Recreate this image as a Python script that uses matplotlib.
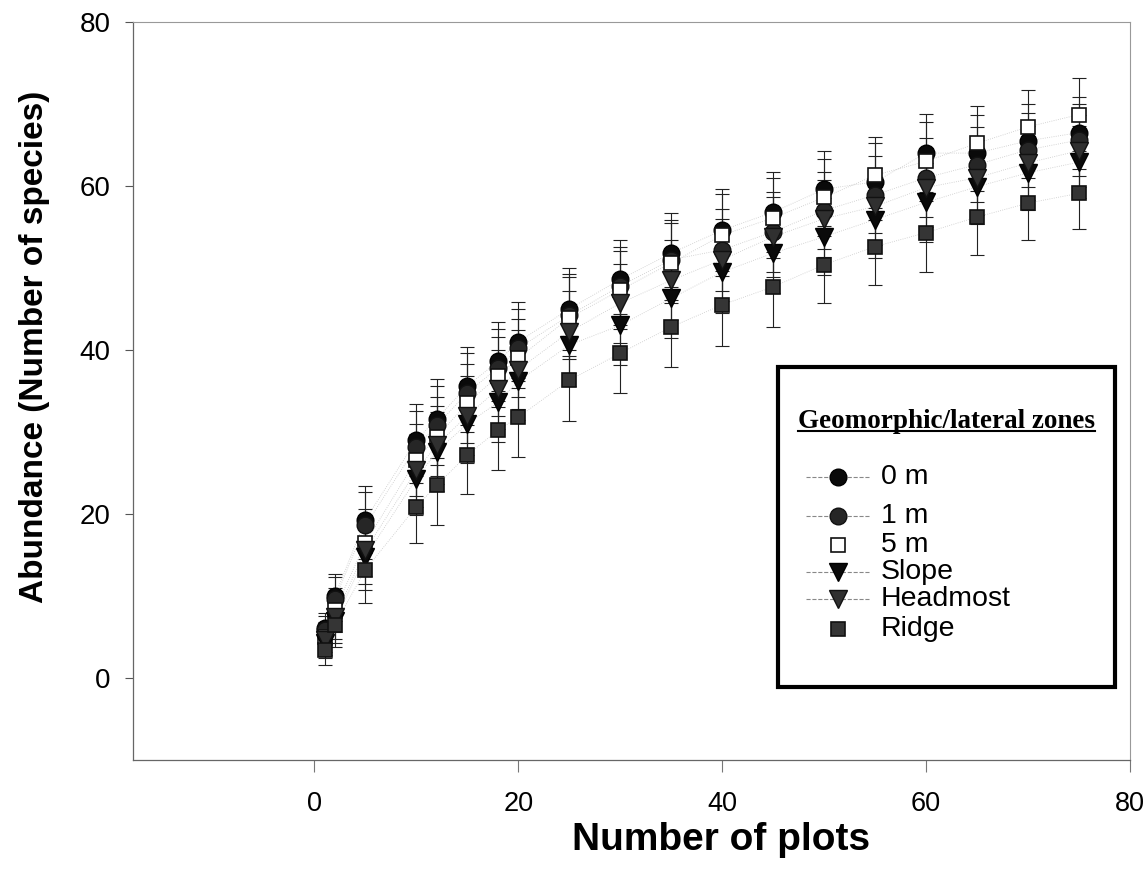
import matplotlib
matplotlib.use("Agg")
import matplotlib.pyplot as plt
from matplotlib.lines import Line2D
from matplotlib.patches import Rectangle

# ---- data ----
plots = [1, 2, 5, 10, 12, 15, 18, 20, 25, 30, 35, 40, 45, 50, 55, 60, 65, 70, 75]
zone_0m = [6.1, 10.0, 19.3, 29.0, 31.6, 35.6, 38.6, 41.0, 45.0, 48.6, 51.8, 54.6, 56.8, 59.6, 60.5, 64.0, 64.0, 65.5, 66.5]
zone_1m = [5.8, 9.6, 18.6, 28.2, 30.8, 34.8, 37.8, 40.2, 44.2, 47.8, 51.0, 52.2, 54.4, 57.0, 58.9, 61.0, 62.6, 64.4, 65.6]
zone_5m = [5.0, 8.3, 16.5, 26.6, 29.4, 33.5, 36.8, 39.0, 43.9, 47.3, 50.6, 54.0, 56.1, 58.6, 61.3, 63.0, 65.2, 67.2, 68.7]
zone_slope = [4.2, 7.0, 14.8, 24.3, 27.6, 31.0, 33.6, 36.2, 40.6, 43.0, 46.3, 49.5, 51.8, 53.8, 55.9, 58.0, 59.9, 61.6, 62.9]
zone_headmost = [4.6, 7.4, 15.6, 25.3, 28.4, 32.0, 35.2, 37.6, 42.2, 45.7, 48.5, 51.0, 53.8, 56.0, 57.5, 59.8, 61.0, 62.8, 64.3]
zone_ridge = [3.4, 6.5, 13.2, 20.9, 23.5, 27.2, 30.2, 31.8, 36.3, 39.6, 42.8, 45.5, 47.7, 50.4, 52.6, 54.3, 56.2, 57.9, 59.1]
err = [1.8, 2.7, 4.1, 4.4, 4.8, 4.8, 4.8, 4.8, 5.0, 4.8, 4.9, 5.0, 4.9, 4.7, 4.7, 4.8, 4.6, 4.5, 4.4]

labels = ["0 m", "1 m", "5 m", "Slope", "Headmost", "Ridge"]
legend_title = "Geomorphic/lateral zones"
xticks = [0, 20, 40, 60, 80]
yticks = [0, 20, 40, 60, 80]

plt.rcParams['font.family'] = ['Liberation Sans', 'DejaVu Sans']

W, H = 1146, 894
fig = plt.figure(figsize=(W / 100, H / 100), dpi=100)
ax = fig.add_axes([133 / W, 0.150, (1130 - 133) / W, 0.8255])

series = [
    (zone_0m, dict(marker='o', ms=12, mfc='#0a0a0a', mec='#000000'), True),
    (zone_1m, dict(marker='o', ms=12, mfc='#262626', mec='#111111'), True),
    (zone_5m, dict(marker='s', ms=10.5, mfc='white', mec='#111111', mew=1.2), False),
    (zone_slope, dict(marker='v', ms=13, mfc='#0a0a0a', mec='#000000'), True),
    (zone_headmost, dict(marker='v', ms=13, mfc='#303030', mec='#111111'), True),
    (zone_ridge, dict(marker='s', ms=10.5, mfc='#353535', mec='#111111', mew=1.2), False),
]

for vals, mk, with_line in series:
    ax.errorbar(plots, vals, yerr=err, fmt='none', ecolor='#222222', elinewidth=0.8,
                capsize=5, capthick=0.8, zorder=2)
    ax.plot(plots, vals, linestyle=':', color='#c8c8c8', lw=0.6, zorder=2.5)
    ax.plot(plots, vals, linestyle='none', zorder=3, **mk)

ax.set_xlim(-17.8, 80)
ax.set_ylim(-10, 80)
ax.set_xticks(xticks)
ax.set_yticks(yticks)
ax.tick_params(axis='x', direction='out', length=8.5, width=0.8, color='#777777',
               labelsize=19.5, pad=14)
ax.tick_params(axis='y', direction='out', length=6, width=0.8, color='#555555',
               labelsize=20, pad=10)
for side in ['left', 'bottom']:
    ax.spines[side].set_color('#666666')
    ax.spines[side].set_linewidth(0.9)
for side in ['top', 'right']:
    ax.spines[side].set_color('#999999')
    ax.spines[side].set_linewidth(0.8)

fig.text(0.0305, 0.612, "Abundance (Number of species)", rotation=90,
         ha='center', va='center', fontsize=24, fontweight='bold')
fig.text(0.629, 0.0604, "Number of plots", ha='center', va='center',
         fontsize=28, fontweight='bold')

# ---- legend (box, underlined title, entries) ----
def fx(px):
    return px / W

def fy(py):
    return 1 - py / H

fig.add_artist(Rectangle((fx(778), fy(687)), fx(1115) - fx(778), fy(367) - fy(687),
                         transform=fig.transFigure, facecolor='white',
                         edgecolor='black', lw=3, zorder=5))
title = fig.text(fx(946), fy(421), legend_title, ha='center', va='center',
                 fontsize=19.5, fontweight='bold',
                 family=['Liberation Serif', 'DejaVu Serif'], zorder=6)

rows = [477, 516, 545, 572, 599, 629]
for (vals, mk, with_line), lab, ry in zip(series, labels, rows):
    if with_line:
        fig.add_artist(Line2D([fx(806), fx(870)], [fy(ry), fy(ry)],
                              transform=fig.transFigure, color='#888888',
                              lw=0.8, ls='--', zorder=6))
    fig.add_artist(Line2D([fx(838)], [fy(ry)], transform=fig.transFigure,
                          linestyle='none', zorder=7, **mk))
    fig.text(fx(881), fy(ry), lab, ha='left', va='center', fontsize=20.5, zorder=7)

fig.canvas.draw()
bb = title.get_window_extent(fig.canvas.get_renderer())
inv = fig.transFigure.inverted()
(x0, y0) = inv.transform((bb.x0, bb.y0 + 2))
(x1, _) = inv.transform((bb.x1, bb.y0 + 2))
fig.add_artist(Line2D([x0, x1], [y0, y0], transform=fig.transFigure, color='black',
                      lw=1.5, zorder=8))

fig.savefig("out.png", dpi=100)
